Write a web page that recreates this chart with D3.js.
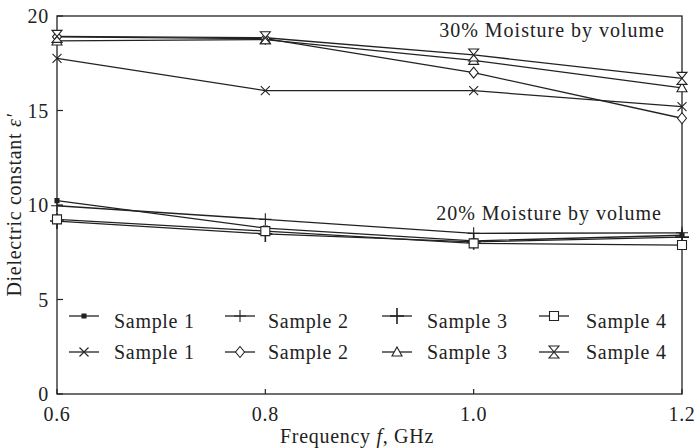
<!DOCTYPE html>
<html>
<head>
<meta charset="utf-8">
<script src="https://cdn.jsdelivr.net/npm/d3@7"></script>
<style>
  html, body { margin: 0; padding: 0; background: #fff; }
  svg text { font-family: "Liberation Serif", "DejaVu Serif", serif; fill: #222; font-size: 20px; letter-spacing: 0.7px; }
</style>
</head>
<body>
<svg id="chart" width="700" height="448"></svg>
<script>
// Frequencies (GHz) and dielectric constant readings per sample
const freq = [0.6, 0.8, 1.0, 1.2];
const xTicks = [0.6, 0.8, 1.0, 1.2];
const yTicks = [0, 5, 10, 15, 20];

// 30% moisture by volume
const m30Sample1 = [17.76, 16.05, 16.05, 15.2];
const m30Sample2 = [18.9, 18.8, 17.0, 14.59];
const m30Sample3 = [18.68, 18.75, 17.65, 16.2];
const m30Sample4 = [18.92, 18.85, 17.94, 16.7];

// 20% moisture by volume
const m20Sample1 = [10.23, 8.78, 8.1, 8.4];
const m20Sample2 = [9.96, 9.24, 8.5, 8.53];
const m20Sample3 = [9.15, 8.47, 8.05, 8.3];
const m20Sample4 = [9.24, 8.62, 7.97, 7.88];

const seriesNames = ["Sample 1", "Sample 2", "Sample 3", "Sample 4"];
const markers20 = ["dot", "plusThin", "plus", "square"];
const markers30 = ["cross", "diamond", "triangle", "hourglass"];
const values20 = [m20Sample1, m20Sample2, m20Sample3, m20Sample4];
const values30 = [m30Sample1, m30Sample2, m30Sample3, m30Sample4];

const ink = "#222";
const svg = d3.select("#chart");
const plotL = 57, plotR = 682, plotT = 16, plotB = 394;

const x = d3.scaleLinear().domain([0.6, 1.2]).range([plotL, plotR]);
const y = d3.scaleLinear().domain([0, 20]).range([plotB, plotT]);

// marker shapes drawn around (0,0)
function markerPath(type) {
  switch (type) {
    case "dot": return "M-2,-2H2V2H-2Z";
    case "plusThin": return "M-6,0H6M0,-6V6";
    case "plus": return "M-7,0H7M0,-8V8";
    case "square": return "M-4.5,-4.5H4.5V4.5H-4.5Z";
    case "cross": return "M-4.5,-4.5L4.5,4.5M-4.5,4.5L4.5,-4.5";
    case "diamond": return "M0,-5.5L4.5,0L0,5.5L-4.5,0Z";
    case "triangle": return "M0,-5L5,4H-5Z";
    case "hourglass": return "M-5,-6H5L0,0L5,6H-5L0,0Z";
  }
}
const openStrokeOnly = new Set(["plus", "plusThin", "cross"]);
function drawMarker(g, type, cx, cy) {
  const filled = type === "dot";
  g.append("path")
    .attr("d", markerPath(type))
    .attr("transform", `translate(${cx},${cy})`)
    .attr("fill", filled ? ink : (openStrokeOnly.has(type) ? "none" : "#fff"))
    .attr("stroke", ink)
    .attr("stroke-width", type === "plus" ? 1.6 : 1.1);
}

// plot frame
svg.append("rect")
  .attr("x", plotL).attr("y", plotT)
  .attr("width", plotR - plotL).attr("height", plotB - plotT)
  .attr("fill", "none").attr("stroke", ink).attr("stroke-width", 1.3);

// inward ticks
const tickG = svg.append("g").attr("stroke", ink).attr("stroke-width", 1.2);
yTicks.forEach(t => tickG.append("line")
  .attr("x1", plotL).attr("x2", plotL + 6).attr("y1", y(t)).attr("y2", y(t)));
xTicks.forEach(t => tickG.append("line")
  .attr("x1", x(t)).attr("x2", x(t)).attr("y1", plotB).attr("y2", plotB - 5));

// tick labels
svg.append("g").selectAll("text").data(yTicks).join("text")
  .attr("x", plotL - 8).attr("y", d => y(d) + 7)
  .attr("text-anchor", "end")
  .text(d => d);
svg.append("g").selectAll("text").data(xTicks).join("text")
  .attr("x", d => x(d)).attr("y", 421)
  .attr("text-anchor", "middle")
  .text(d => d3.format(".1f")(d));

// axis titles
const xt = svg.append("text").attr("x", 357).attr("y", 443)
  .attr("text-anchor", "middle");
xt.append("tspan").text("Frequency ");
xt.append("tspan").attr("font-style", "italic").text("f");
xt.append("tspan").text(", GHz");

const yt = svg.append("text")
  .attr("transform", "translate(21,205) rotate(-90)")
  .attr("text-anchor", "middle");
yt.append("tspan").text("Dielectric constant ");
yt.append("tspan").attr("font-style", "italic").text("ε′");

// group annotations
svg.append("text").attr("x", 665).attr("y", 37)
  .attr("text-anchor", "end").style("letter-spacing", "1px")
  .text("30% Moisture by volume");
svg.append("text").attr("x", 662).attr("y", 220)
  .attr("text-anchor", "end").style("letter-spacing", "1px")
  .text("20% Moisture by volume");

// series lines and markers
const line = d3.line().x((d, i) => x(freq[i])).y(d => y(d));
const plot = svg.append("g");
function drawSeries(vals) {
  plot.append("path").attr("d", line(vals))
    .attr("fill", "none").attr("stroke", ink).attr("stroke-width", 1.3);
}
values20.forEach(v => drawSeries(v));
values30.forEach(v => drawSeries(v));
values20.forEach((v, i) => v.forEach((d, j) => drawMarker(plot, markers20[i], x(freq[j]), y(d))));
values30.forEach((v, i) => v.forEach((d, j) => drawMarker(plot, markers30[i], x(freq[j]), y(d))));

// legend: two rows, four columns
const legendLineX = [69, 225, 382, 539];
const legendTextX = [114, 268, 427, 586];
const legendRows = [316, 352];
const legendBase = [328, 359];
const legend = svg.append("g");
[markers20, markers30].forEach((row, r) => {
  row.forEach((m, c) => {
    const lx = legendLineX[c], ly = legendRows[r];
    legend.append("line").attr("x1", lx).attr("x2", lx + 30)
      .attr("y1", ly).attr("y2", ly)
      .attr("stroke", ink).attr("stroke-width", 1.3);
    drawMarker(legend, m, lx + 15, ly);
    legend.append("text").attr("x", legendTextX[c]).attr("y", legendBase[r])
      .text(seriesNames[c]);
  });
});
</script>
</body>
</html>
